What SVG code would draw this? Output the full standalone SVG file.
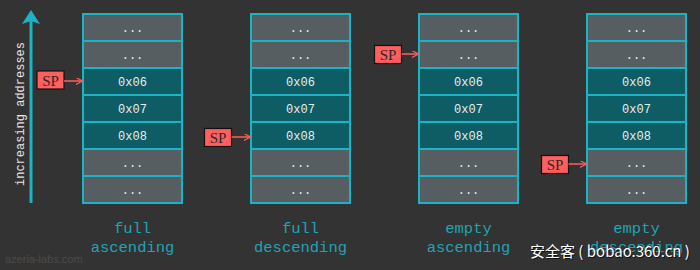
<svg xmlns="http://www.w3.org/2000/svg" width="700" height="270" viewBox="0 0 700 270">
<defs>
<style>
.bg{fill:#333333}
.g{fill:#565e61;stroke:#1bb3c6;stroke-width:2}
.t{fill:#0e5c64;stroke:#1bb3c6;stroke-width:2}
.ct{font-family:"Liberation Mono",monospace;font-size:12px;fill:#e6eeee;text-anchor:middle}
.lbl{font-family:"Liberation Mono",monospace;font-size:15.5px;fill:#1ea4b4;text-anchor:middle}
.sp{fill:#ff5f5f;stroke:#111;stroke-width:1.2}
.spt{font-family:"Liberation Serif",serif;font-size:15px;fill:#2a2a2a;text-anchor:middle}
.con{stroke:#ff5f5f;stroke-width:1.5;fill:none;marker-end:url(#ah)}
</style>
<marker id="ah" viewBox="0 0 10 10" refX="9" refY="5" markerWidth="7" markerHeight="7" markerUnits="userSpaceOnUse" orient="auto">
<path d="M0,0 L10,5 L0,10" fill="none" stroke="#ff5f5f" stroke-width="1.8"/>
</marker>
<g id="stack">
<rect class="g" x="0" y="0" width="99" height="27"/>
<rect class="g" x="0" y="27" width="99" height="27"/>
<rect class="t" x="0" y="54" width="99" height="27"/>
<rect class="t" x="0" y="81" width="99" height="27"/>
<rect class="t" x="0" y="108" width="99" height="27"/>
<rect class="g" x="0" y="135" width="99" height="27"/>
<rect class="g" x="0" y="162" width="99" height="27"/>
<text class="ct" x="49.5" y="18">...</text>
<text class="ct" x="49.5" y="45">...</text>
<text class="ct" x="49.5" y="72">0x06</text>
<text class="ct" x="49.5" y="99">0x07</text>
<text class="ct" x="49.5" y="126">0x08</text>
<text class="ct" x="49.5" y="153">...</text>
<text class="ct" x="49.5" y="180">...</text>
</g>
</defs>
<rect class="bg" x="0" y="0" width="700" height="270"/>

<g id="axis">
<line x1="31" y1="203" x2="31" y2="20" stroke="#1bb3c6" stroke-width="3"/>
<path d="M31,10 L40,24 L31,21 L22,24 Z" fill="#1bb3c6"/>
<text transform="translate(24,114) rotate(-90)" font-family="Liberation Mono,monospace" font-size="12px" fill="#e6e6e6" text-anchor="middle">increasing addresses</text>
</g>

<g id="full-ascending">
<use href="#stack" x="83" y="14"/>
<text class="lbl" x="132.5" y="233">full</text>
<text class="lbl" x="132.5" y="252">ascending</text>
</g>
<g id="full-descending">
<use href="#stack" x="251" y="14"/>
<text class="lbl" x="300.5" y="233">full</text>
<text class="lbl" x="300.5" y="252">descending</text>
</g>
<g id="empty-ascending">
<use href="#stack" x="419" y="14"/>
<text class="lbl" x="468.5" y="233">empty</text>
<text class="lbl" x="468.5" y="252">ascending</text>
</g>
<g id="empty-descending">
<use href="#stack" x="587" y="14"/>
<text class="lbl" x="636.5" y="233">empty</text>
<text class="lbl" x="636.5" y="252">descending</text>
</g>

<g id="sp1"><rect class="sp" x="37" y="71" width="27" height="18"/><text class="spt" x="50.5" y="85.5">SP</text></g>
<g id="sp2"><rect class="sp" x="204.5" y="128.5" width="27" height="18"/><text class="spt" x="218" y="143">SP</text></g>
<g id="sp3"><rect class="sp" x="374.5" y="45.5" width="27" height="18"/><text class="spt" x="388" y="60">SP</text></g>
<g id="sp4"><rect class="sp" x="541.5" y="155.5" width="27" height="18"/><text class="spt" x="555" y="170">SP</text></g>

<g id="connectors">
<line class="con" x1="64" y1="81" x2="82" y2="81"/>
<line class="con" x1="231.5" y1="137" x2="250" y2="137"/>
<line class="con" x1="401.5" y1="54" x2="418" y2="54"/>
<line class="con" x1="568.5" y1="164" x2="586" y2="164"/>
</g>

<text x="5" y="263" font-family="Liberation Sans,Arial,sans-serif" font-size="11px" fill="#4b4b4b">azeria-labs.com</text>
<g id="watermark" font-family="Noto Sans CJK SC,Liberation Sans,sans-serif" font-size="15px">
<text x="531" y="258" fill="#111">安全客 ( bobao.360.cn )</text>
<text x="530" y="257" fill="#ffffff">安全客 ( bobao.360.cn )</text>
</g>
</svg>
